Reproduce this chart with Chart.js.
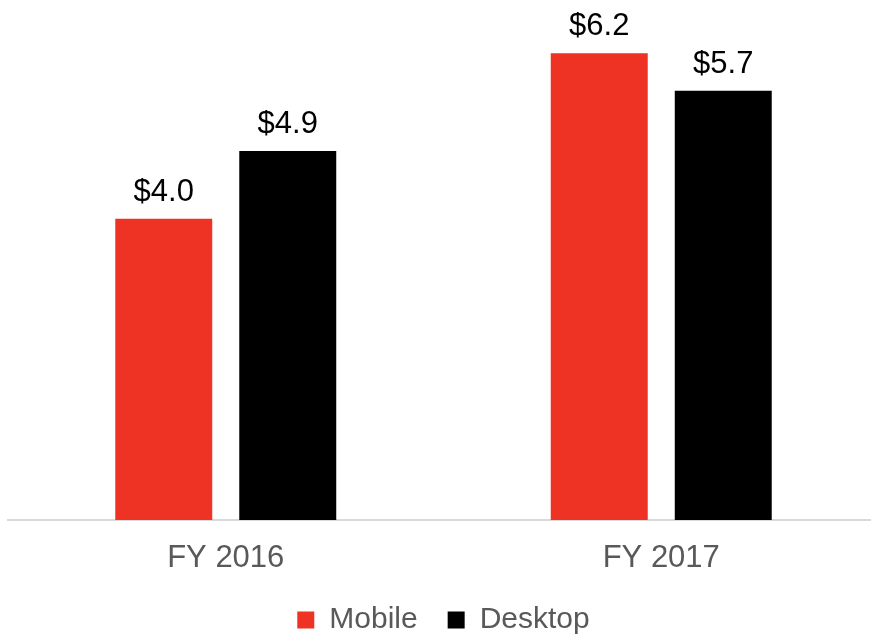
<!DOCTYPE html>
<html>
<head>
<meta charset="utf-8">
<script src="https://cdn.jsdelivr.net/npm/chart.js@4/dist/chart.umd.min.js"></script>
<style>
  html, body { margin: 0; padding: 0; background: #fff; overflow: hidden; }
  #wrap { width: 880px; height: 645px; }
</style>
</head>
<body>
<div id="wrap"><canvas id="chart"></canvas></div>
<script>
const categories = ['FY 2016', 'FY 2017']
const mobile = [4.0, 6.2]
const desktop = [4.9, 5.7]
const seriesNames = ['Mobile', 'Desktop']

const FONT = '"Liberation Sans", Arial, sans-serif'

// value labels above the bars
const barLabels = {
  id: 'barLabels',
  afterDatasetsDraw(chart) {
    const ctx = chart.ctx
    ctx.save()
    ctx.font = '31px ' + FONT
    ctx.fillStyle = '#000'
    ctx.textAlign = 'center'
    ctx.textBaseline = 'alphabetic'
    chart.data.datasets.forEach((ds, i) => {
      chart.getDatasetMeta(i).data.forEach((bar, j) => {
        ctx.fillText('$' + ds.data[j].toFixed(1), bar.x, bar.y - 18)
      })
    })
    ctx.restore()
  }
}

new Chart(document.getElementById('chart'), {
  type: 'bar',
  data: {
    labels: categories,
    datasets: [
      { label: seriesNames[0], data: mobile, backgroundColor: '#ee3224' },
      { label: seriesNames[1], data: desktop, backgroundColor: '#000000' }
    ]
  },
  options: {
    responsive: true,
    maintainAspectRatio: false,
    animation: false,
    devicePixelRatio: 1,
    categoryPercentage: 0.5695,
    barPercentage: 0.782,
    layout: { padding: { left: 8, right: 1, top: 8, bottom: 0 } },
    plugins: {
      legend: {
        position: 'bottom',
        labels: {
          boxWidth: 17,
          boxHeight: 17,
          padding: 30,
          color: '#595959',
          font: { family: FONT, size: 30 }
        }
      },
      tooltip: { enabled: false }
    },
    scales: {
      x: {
        grid: { display: false },
        border: { display: true, color: '#d9d9d9', width: 2 },
        ticks: { color: '#595959', font: { family: FONT, size: 31 }, padding: 12 },
        afterFit(scale) { scale.height = 55 }
      },
      y: {
        display: false,
        min: 0,
        max: 6.8
      }
    }
  },
  plugins: [barLabels]
})
</script>
</body>
</html>
